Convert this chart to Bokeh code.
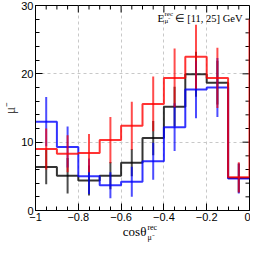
import math
from bokeh.plotting import figure
from bokeh.models import (Label, SingleIntervalTicker, CustomJSTickFormatter, Range1d, Div)
from bokeh.layouts import column
from bokeh.embed import file_html
from bokeh.resources import INLINE

# ---- data ----
bin_edges = [-1.0, -0.9, -0.8, -0.7, -0.6, -0.5, -0.4, -0.3, -0.2, -0.1, 0.0]
black_vals = [6.35, 5.1, 4.4, 5.1, 7.0, 10.6, 15.2, 19.95, 18.7, 4.75]
black_err = [2.5, 2.6, 2.2, 2.0, 2.0, 2.5, 2.9, 3.3, 3.2, 2.1]
blue_vals = [13.0, 9.3, 5.0, 3.7, 4.2, 7.2, 12.2, 17.7, 18.0, 4.7]
blue_err = [3.6, 3.0, 2.6, 1.9, 2.2, 2.7, 3.5, 4.2, 4.3, 2.2]
red_vals = [9.0, 8.3, 8.4, 10.3, 12.4, 15.6, 19.4, 22.5, 19.4, 4.85]
red_err = [3.0, 2.7, 2.8, 3.4, 3.5, 4.0, 4.3, 4.7, 4.4, 2.2]
red_overflow_edge = 0.1
red_overflow = 27.9

xtick_values = [-1.0, -0.8, -0.6, -0.4, -0.2, 0.0]
xtick_labels = ["\u22121", "\u22120.8", "\u22120.6", "\u22120.4", "\u22120.2", "0"]
x_title = "cos\u03b8"
x_title_sup = "rec"
x_title_sub = "\u03bc\u207b"
y_title = "\u03bc\u207b"
note_main = "E"
note_sup = "rec"
note_sub = "\u03bc\u207b"
note_rest = "\u2208 [11, 25] GeV"

SANS = "Liberation Sans"
SERIF = "Liberation Serif"
X0, X1, Y0, Y1 = -1.0, 0.0, 0.0, 30.0
XMAJ, XMINOR_N, YMAJ, YMINOR_N = 0.2, 4, 10.0, 5


def step_xy(edges, vals):
    xs, ys = [], []
    for i, v in enumerate(vals):
        xs += [edges[i], edges[i + 1]]
        ys += [v, v]
    return xs, ys


p = figure(width=250, height=223, x_range=Range1d(X0, X1), y_range=Range1d(Y0, Y1),
           output_backend="svg", toolbar_location=None,
           min_border_left=0, min_border_right=1, min_border_top=5,
           min_border_bottom=0, margin=0)
p.background_fill_color = "white"
p.border_fill_color = "white"
p.outline_line_color = "black"
p.outline_line_width = 1

xticker = SingleIntervalTicker(interval=XMAJ, num_minor_ticks=XMINOR_N)
yticker = SingleIntervalTicker(interval=YMAJ, num_minor_ticks=YMINOR_N)
xfmt = CustomJSTickFormatter(args=dict(vals=xtick_values, labs=xtick_labels), code="""
let best = 0;
for (let i = 0; i < vals.length; i++) {
  if (Math.abs(vals[i] - tick) < Math.abs(vals[best] - tick)) best = i;
}
return labs[best];
""")


def style_axis(ax):
    ax.major_tick_in = 7
    ax.major_tick_out = 0
    ax.minor_tick_in = 4
    ax.minor_tick_out = 0
    ax.axis_line_color = "black"
    ax.major_tick_line_color = "black"
    ax.minor_tick_line_color = "black"
    ax.major_label_text_font = SANS
    ax.major_label_text_font_size = "11px"
    ax.major_label_text_color = "black"


xa = p.xaxis[0]
xa.ticker = xticker
xa.formatter = xfmt
style_axis(xa)
xa.major_label_standoff = 2

ya = p.yaxis[0]
ya.ticker = yticker
style_axis(ya)
ya.major_label_standoff = 2
ya.axis_label = y_title
ya.axis_label_text_font = SERIF
ya.axis_label_text_font_size = "14px"
ya.axis_label_text_font_style = "normal"
ya.axis_label_standoff = 0

for g in (p.xgrid[0], p.ygrid[0]):
    g.grid_line_color = "#c8c8c8"
    g.grid_line_dash = "3 3"
    g.grid_line_width = 1
p.xgrid[0].ticker = xticker
p.ygrid[0].ticker = yticker

# mirrored ticks on the top and right frame edges (ROOT style)
nxm = int(round((X1 - X0) / XMAJ * XMINOR_N))
top_all = [X0 + i * XMAJ / XMINOR_N for i in range(nxm + 1)]
top_major = [t for i, t in enumerate(top_all) if i % XMINOR_N == 0]
top_minor = [t for i, t in enumerate(top_all) if i % XMINOR_N != 0]
nym = int(round((Y1 - Y0) / YMAJ * YMINOR_N))
right_all = [Y0 + i * YMAJ / YMINOR_N for i in range(nym + 1)]
right_major = [t for i, t in enumerate(right_all) if i % YMINOR_N == 0]
right_minor = [t for i, t in enumerate(right_all) if i % YMINOR_N != 0]
p.ray(x=top_major, y=[Y1] * len(top_major), length=7, angle=-math.pi / 2,
      length_units="screen", line_color="black", line_width=1)
p.ray(x=top_minor, y=[Y1] * len(top_minor), length=4, angle=-math.pi / 2,
      length_units="screen", line_color="black", line_width=1)
p.ray(x=[X1] * len(right_major), y=right_major, length=7, angle=math.pi,
      length_units="screen", line_color="black", line_width=1)
p.ray(x=[X1] * len(right_minor), y=right_minor, length=4, angle=math.pi,
      length_units="screen", line_color="black", line_width=1)

centers = [(a + b) / 2 for a, b in zip(bin_edges[:-1], bin_edges[1:])]

series = [
    ("black", bin_edges, black_vals, black_vals, black_err),
    ("#0000ff", bin_edges, blue_vals, blue_vals, blue_err),
    ("#ff0000", bin_edges + [red_overflow_edge], red_vals + [red_overflow], red_vals, red_err),
]
for color, edges, step_vals, vals, errs in series:
    xs, ys = step_xy(edges, step_vals)
    p.line(xs, ys, line_color=color, line_width=2, line_alpha=0.8)
    p.segment(x0=centers, y0=[v - e for v, e in zip(vals, errs)],
              x1=centers, y1=[v + e for v, e in zip(vals, errs)],
              line_color=color, line_width=2, line_alpha=0.7)

# energy note (top right)
nx, ny = 0.0, 28.1
p.add_layout(Label(x=nx, y=ny, x_offset=-92, text=note_main, text_align="left",
                   text_baseline="alphabetic", text_font=SERIF, text_font_size="11px",
                   text_color="black"))
p.add_layout(Label(x=nx, y=ny, x_offset=-85, y_offset=4, text=note_sup, text_align="left",
                   text_baseline="alphabetic", text_font=SERIF, text_font_size="7px",
                   text_color="black"))
p.add_layout(Label(x=nx, y=ny, x_offset=-85, y_offset=-3, text=note_sub, text_align="left",
                   text_baseline="alphabetic", text_font=SERIF, text_font_size="7px",
                   text_color="black"))
p.add_layout(Label(x=nx, y=ny, x_offset=-7, text=note_rest, text_align="right",
                   text_baseline="alphabetic", text_font=SERIF, text_font_size="10.5px",
                   text_color="black"))

# x-axis title with stacked super/subscript
title_html = (
    "<div style=\"display:block;width:250px;box-sizing:border-box;"
    "font-family:'Liberation Serif',serif;font-size:13px;line-height:17px;"
    "text-align:center;padding-left:30px;color:black;white-space:nowrap\">"
    f"{x_title}<span style=\"display:inline-block;vertical-align:-4px;font-size:8px;"
    f"line-height:10px;text-align:left;margin-left:1px\">{x_title_sup}<br>{x_title_sub}</span>"
    "</div>"
)
xtitle = Div(text=title_html, width=250, height=18, margin=0)

layout = column(p, xtitle, spacing=0, margin=0)
open("out.html", "w").write(file_html(layout, INLINE))
